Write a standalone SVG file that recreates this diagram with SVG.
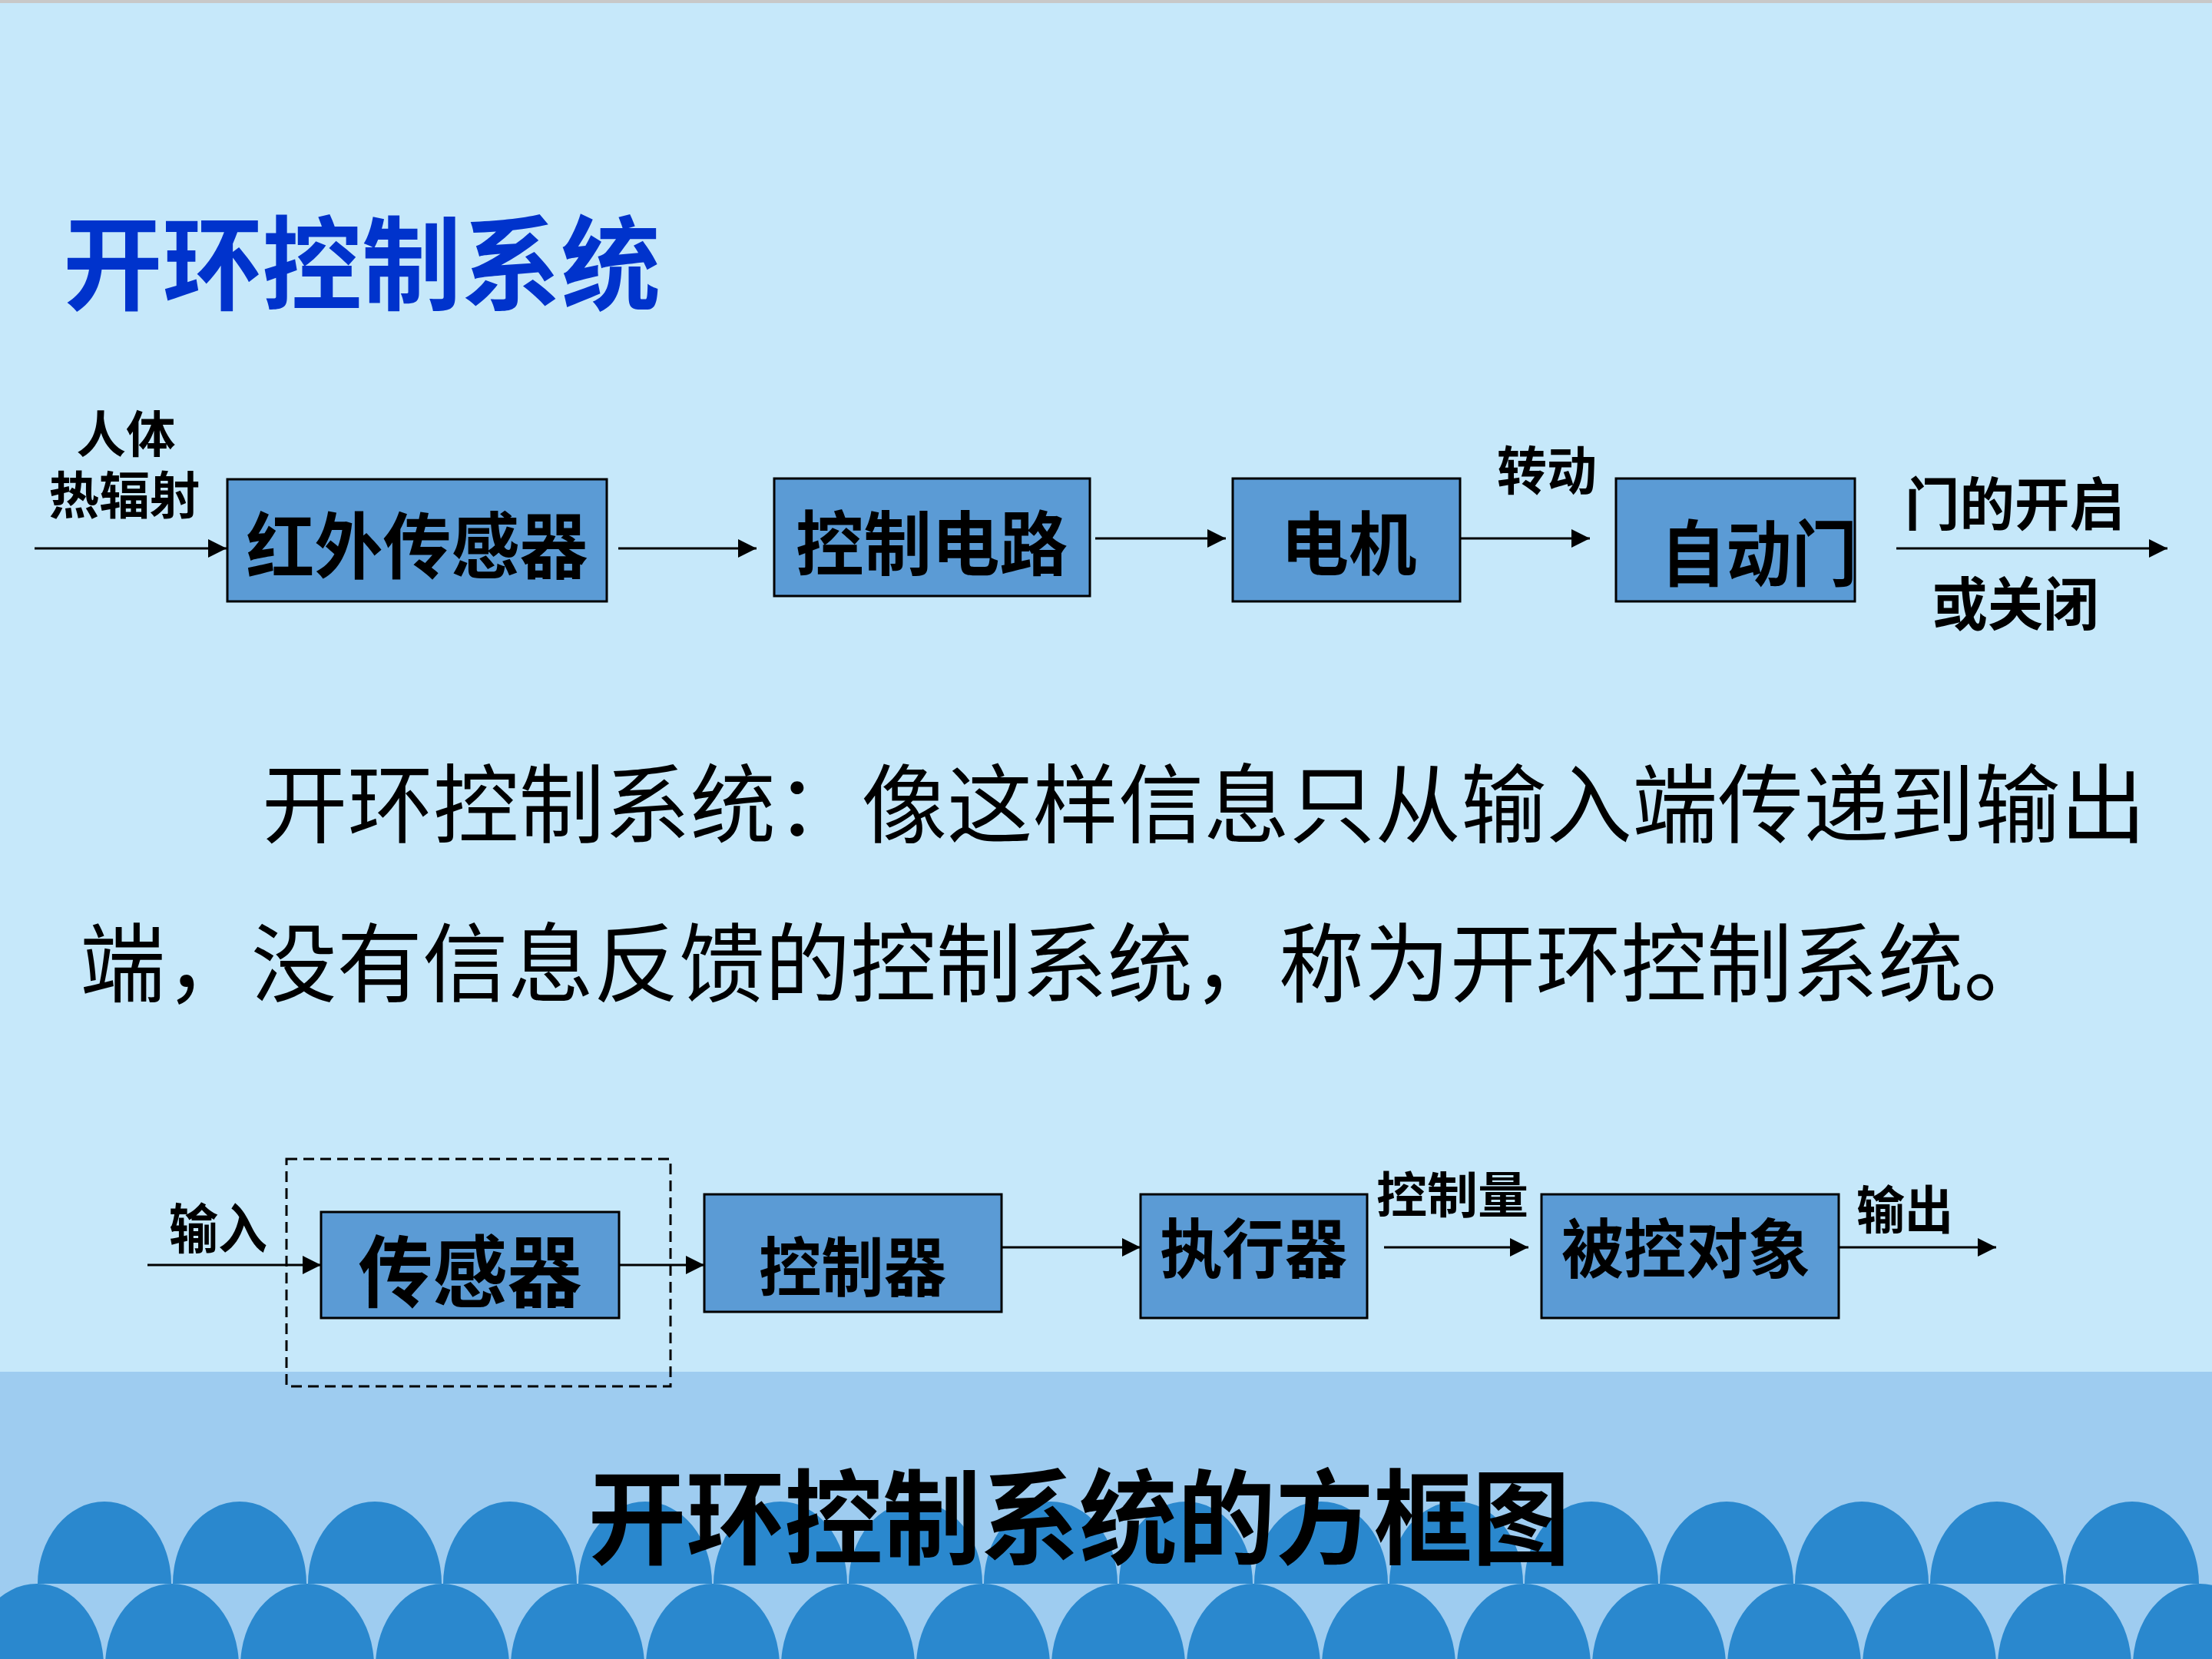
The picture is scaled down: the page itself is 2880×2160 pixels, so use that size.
<svg xmlns="http://www.w3.org/2000/svg" width="2880" height="2160" viewBox="0 0 2880 2160">
<defs>
<style>
.bg{fill:#C6E8FA}
.band{fill:#9ECCF0}
.arch{fill:#2A88CE}
.box{fill:#5B9BD5;stroke:#000;stroke-width:3}
.dash{fill:none;stroke:#000;stroke-width:3;stroke-dasharray:14 8}
.line{stroke:#000;stroke-width:3;fill:none;marker-end:url(#ah)}
text{font-family:"Noto Sans CJK SC","Noto Sans CJK TC",sans-serif;fill:#000;dominant-baseline:central;text-anchor:middle}
.b{font-weight:700}
.para{font-weight:400;text-anchor:start}
.title{fill:#0033CC;font-weight:700}
</style>
<marker id="ah" markerUnits="userSpaceOnUse" markerWidth="26" markerHeight="26" refX="24" refY="12" orient="auto">
<path d="M0,0 L24,12 L0,24 Z" fill="#000"/>
</marker>
</defs>
<rect class="bg" x="0" y="0" width="2880" height="2160"/>
<rect x="0" y="0" width="2880" height="4" fill="#C8C8C8"/>
<rect class="band" x="0" y="1786" width="2880" height="374"/>
<g id="arches">
<path class="arch" d="M49,2062 A87,107 0 0 1 223,2062 Z M225,2062 A87,107 0 0 1 399,2062 Z M401,2062 A87,107 0 0 1 575,2062 Z M577,2062 A87,107 0 0 1 751,2062 Z M753,2062 A87,107 0 0 1 927,2062 Z M929,2062 A87,107 0 0 1 1103,2062 Z M1105,2062 A87,107 0 0 1 1279,2062 Z M1281,2062 A87,107 0 0 1 1455,2062 Z M1457,2062 A87,107 0 0 1 1631,2062 Z M1633,2062 A87,107 0 0 1 1807,2062 Z M1809,2062 A87,107 0 0 1 1983,2062 Z M1985,2062 A87,107 0 0 1 2159,2062 Z M2161,2062 A87,107 0 0 1 2335,2062 Z M2337,2062 A87,107 0 0 1 2511,2062 Z M2513,2062 A87,107 0 0 1 2687,2062 Z M2689,2062 A87,107 0 0 1 2863,2062 Z"/>
<path class="arch" d="M-39,2169 A87,107 0 0 1 135,2169 Z M137,2169 A87,107 0 0 1 311,2169 Z M313,2169 A87,107 0 0 1 487,2169 Z M489,2169 A87,107 0 0 1 663,2169 Z M665,2169 A87,107 0 0 1 839,2169 Z M841,2169 A87,107 0 0 1 1015,2169 Z M1017,2169 A87,107 0 0 1 1191,2169 Z M1193,2169 A87,107 0 0 1 1367,2169 Z M1369,2169 A87,107 0 0 1 1543,2169 Z M1545,2169 A87,107 0 0 1 1719,2169 Z M1721,2169 A87,107 0 0 1 1895,2169 Z M1897,2169 A87,107 0 0 1 2071,2169 Z M2073,2169 A87,107 0 0 1 2247,2169 Z M2249,2169 A87,107 0 0 1 2423,2169 Z M2425,2169 A87,107 0 0 1 2599,2169 Z M2601,2169 A87,107 0 0 1 2775,2169 Z M2777,2169 A87,107 0 0 1 2951,2169 Z"/>
</g>
<text id="title" class="title" x="471" y="335" font-size="133" textLength="778" lengthAdjust="spacingAndGlyphs">开环控制系统</text>
<g id="connectors">
<line class="line" x1="45" y1="714" x2="295" y2="714"/>
<line class="line" x1="805" y1="714" x2="985" y2="714"/>
<line class="line" x1="1426" y1="701" x2="1596" y2="701"/>
<line class="line" x1="1901" y1="701" x2="2070" y2="701"/>
<line class="line" x1="2469" y1="714" x2="2822" y2="714"/>
<line class="line" x1="192" y1="1647" x2="418" y2="1647"/>
<line class="line" x1="806" y1="1647" x2="917" y2="1647"/>
<line class="line" x1="1304" y1="1624" x2="1485" y2="1624"/>
<line class="line" x1="1802" y1="1624" x2="1990" y2="1624"/>
<line class="line" x1="2394" y1="1624" x2="2599" y2="1624"/>
</g>
<g id="labels">
<text class="b" x="164" y="561" font-size="65" textLength="129" lengthAdjust="spacingAndGlyphs">人体</text>
<text class="b" x="162" y="640" font-size="66" textLength="197" lengthAdjust="spacingAndGlyphs">热辐射</text>
<text class="b" x="2014" y="608" font-size="68" textLength="130" lengthAdjust="spacingAndGlyphs">转动</text>
<text class="b" x="2623" y="651" font-size="75" textLength="286" lengthAdjust="spacingAndGlyphs">门的开启</text>
<text class="b" x="2624" y="781" font-size="75" textLength="217" lengthAdjust="spacingAndGlyphs">或关闭</text>
<text class="b" x="284" y="1595" font-size="70" textLength="128" lengthAdjust="spacingAndGlyphs">输入</text>
<text class="b" x="1891" y="1551" font-size="64" textLength="198" lengthAdjust="spacingAndGlyphs">控制量</text>
<text class="b" x="2480" y="1570" font-size="67" textLength="126" lengthAdjust="spacingAndGlyphs">输出</text>
</g>
<g id="n1"><rect class="box" x="296" y="624" width="494" height="159"/><text class="b" x="543" y="705" font-size="94" textLength="445" lengthAdjust="spacingAndGlyphs">红外传感器</text></g>
<g id="n2"><rect class="box" x="1008" y="623" width="411" height="153"/><text class="b" x="1213" y="701" font-size="92" textLength="354" lengthAdjust="spacingAndGlyphs">控制电路</text></g>
<g id="n3"><rect class="box" x="1605" y="623" width="296" height="160"/><text class="b" x="1756" y="702" font-size="90" textLength="177" lengthAdjust="spacingAndGlyphs">电机</text></g>
<g id="n4"><rect class="box" x="2104" y="623" width="311" height="160"/><text class="b" x="2290" y="715" font-size="94" textLength="256" lengthAdjust="spacingAndGlyphs">自动门</text></g>
<g id="para">
<text class="para" x="341" y="1040" font-size="112" textLength="2453" lengthAdjust="spacingAndGlyphs">开环控制系统：像这样信息只从输入端传递到输出</text>
<text class="para" x="104" y="1247" font-size="112" textLength="2564" lengthAdjust="spacingAndGlyphs">端，没有信息反馈的控制系统，称为开环控制系统。</text>
</g>
<g id="group"><rect class="dash" x="373" y="1509" width="500" height="296"/></g>
<g id="m1"><rect class="box" x="418" y="1578" width="388" height="138"/><text class="b" x="612" y="1649" font-size="102" textLength="291" lengthAdjust="spacingAndGlyphs">传感器</text></g>
<g id="m2"><rect class="box" x="917" y="1555" width="387" height="153"/><text class="b" x="1110" y="1644" font-size="84" textLength="244" lengthAdjust="spacingAndGlyphs">控制器</text></g>
<g id="m3"><rect class="box" x="1485" y="1555" width="295" height="161"/><text class="b" x="1632" y="1620" font-size="84" textLength="244" lengthAdjust="spacingAndGlyphs">执行器</text></g>
<g id="m4"><rect class="box" x="2007" y="1555" width="387" height="161"/><text class="b" x="2195" y="1620" font-size="84" textLength="324" lengthAdjust="spacingAndGlyphs">被控对象</text></g>
<text id="caption" class="b" x="1405" y="1968" font-size="134" textLength="1279" lengthAdjust="spacingAndGlyphs">开环控制系统的方框图</text>
</svg>
